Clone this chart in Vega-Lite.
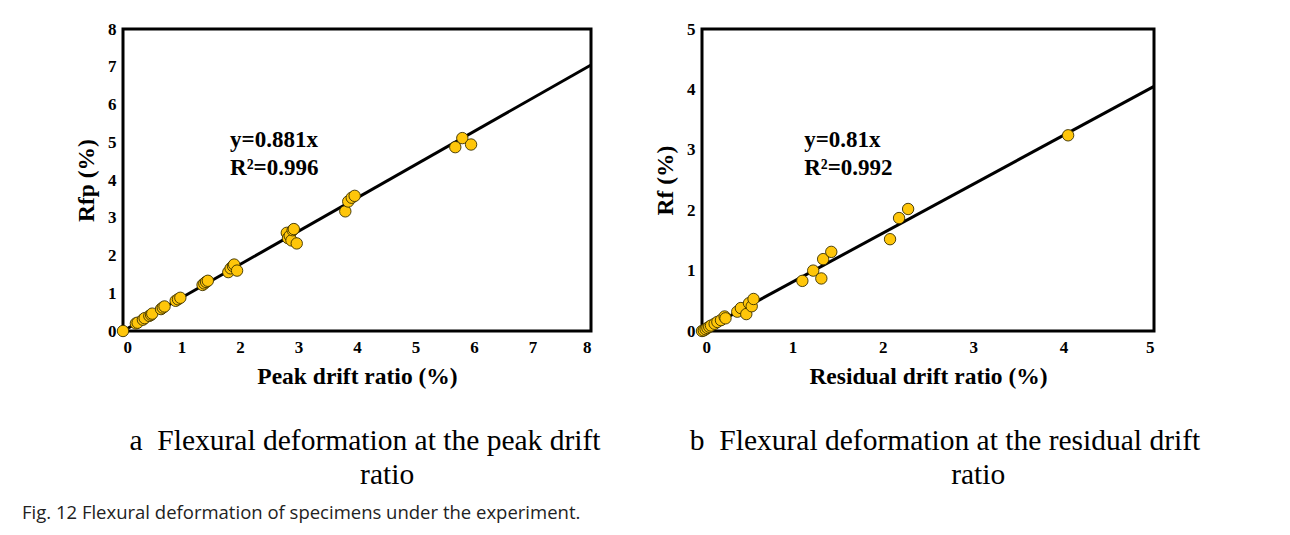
{
  "$schema": "https://vega.github.io/schema/vega-lite/v6.json",
  "background": "white",
  "padding": {"left": 22, "top": 18, "right": 10, "bottom": 5},
  "bounds": "flush",
  "spacing": 111,
  "title": {
    "text": "Fig. 12  Flexural deformation of specimens under the experiment.",
    "orient": "bottom",
    "anchor": "start",
    "font": "Open Sans",
    "fontSize": 18.5,
    "fontWeight": "normal",
    "color": "#222",
    "offset": 13,
    "dx": -51
  },
  "datasets": {
    "peak": [
      {"drift": 0, "rf": 0}, {"drift": 0.22, "rf": 0.2}, {"drift": 0.25, "rf": 0.22},
      {"drift": 0.34, "rf": 0.3}, {"drift": 0.37, "rf": 0.34}, {"drift": 0.45, "rf": 0.4},
      {"drift": 0.48, "rf": 0.43}, {"drift": 0.5, "rf": 0.46},
      {"drift": 0.65, "rf": 0.58}, {"drift": 0.68, "rf": 0.62}, {"drift": 0.71, "rf": 0.65},
      {"drift": 0.9, "rf": 0.8}, {"drift": 0.94, "rf": 0.84}, {"drift": 0.98, "rf": 0.88},
      {"drift": 1.36, "rf": 1.22}, {"drift": 1.39, "rf": 1.26}, {"drift": 1.42, "rf": 1.3}, {"drift": 1.45, "rf": 1.33},
      {"drift": 1.8, "rf": 1.56}, {"drift": 1.84, "rf": 1.66}, {"drift": 1.88, "rf": 1.72}, {"drift": 1.9, "rf": 1.76}, {"drift": 1.95, "rf": 1.6},
      {"drift": 2.8, "rf": 2.6}, {"drift": 2.82, "rf": 2.46}, {"drift": 2.85, "rf": 2.52}, {"drift": 2.88, "rf": 2.4},
      {"drift": 2.9, "rf": 2.67}, {"drift": 2.92, "rf": 2.7}, {"drift": 2.97, "rf": 2.32},
      {"drift": 3.8, "rf": 3.17}, {"drift": 3.85, "rf": 3.43}, {"drift": 3.91, "rf": 3.53}, {"drift": 3.96, "rf": 3.58},
      {"drift": 5.68, "rf": 4.87}, {"drift": 5.8, "rf": 5.11}, {"drift": 5.95, "rf": 4.94}
    ],
    "peakFit": [{"drift": 0, "rf": 0}, {"drift": 8, "rf": 7.048}],
    "peakEq": [
      {"drift": 1.83, "rf": 4.87, "label": "y=0.881x"},
      {"drift": 1.83, "rf": 4.13, "label": "R²=0.996"}
    ],
    "residual": [
      {"drift": 0, "rf": 0}, {"drift": 0.02, "rf": 0.01}, {"drift": 0.04, "rf": 0.03},
      {"drift": 0.06, "rf": 0.05}, {"drift": 0.08, "rf": 0.07}, {"drift": 0.1, "rf": 0.09},
      {"drift": 0.14, "rf": 0.12}, {"drift": 0.17, "rf": 0.15}, {"drift": 0.21, "rf": 0.18},
      {"drift": 0.25, "rf": 0.24}, {"drift": 0.26, "rf": 0.21},
      {"drift": 0.39, "rf": 0.32}, {"drift": 0.43, "rf": 0.38}, {"drift": 0.49, "rf": 0.28},
      {"drift": 0.52, "rf": 0.46}, {"drift": 0.55, "rf": 0.41}, {"drift": 0.57, "rf": 0.53},
      {"drift": 1.11, "rf": 0.83}, {"drift": 1.23, "rf": 1.0}, {"drift": 1.32, "rf": 0.87},
      {"drift": 1.34, "rf": 1.19}, {"drift": 1.43, "rf": 1.31},
      {"drift": 2.08, "rf": 1.52}, {"drift": 2.18, "rf": 1.87}, {"drift": 2.28, "rf": 2.02},
      {"drift": 4.05, "rf": 3.24}
    ],
    "residualFit": [{"drift": 0, "rf": 0}, {"drift": 5, "rf": 4.05}],
    "residualEq": [
      {"drift": 1.13, "rf": 3.05, "label": "y=0.81x"},
      {"drift": 1.13, "rf": 2.58, "label": "R²=0.992"}
    ]
  },
  "hconcat": [
    {
      "width": 468,
      "height": 302,
      "title": {
        "text": ["a\u00a0\u00a0Flexural deformation at the peak drift", "\u200b\u00a0\u00a0\u00a0\u00a0\u00a0\u00a0ratio"],
        "orient": "bottom",
        "anchor": "middle",
        "dx": 8
      },
      "encoding": {
        "x": {
          "field": "drift", "type": "quantitative",
          "scale": {"domain": [0, 8], "nice": false, "zero": true},
          "axis": {"title": "Peak drift ratio (%)", "values": [0, 1, 2, 3, 4, 5, 6, 7, 8]}
        },
        "y": {
          "field": "rf", "type": "quantitative",
          "scale": {"domain": [0, 8], "nice": false, "zero": true},
          "axis": {"title": "Rfp (%)", "values": [0, 1, 2, 3, 4, 5, 6, 7, 8]}
        }
      },
      "layer": [
        {"data": {"name": "peakFit"}, "mark": {"type": "line", "color": "black", "strokeWidth": 3}},
        {"data": {"name": "peak"}, "mark": {"type": "point", "filled": true, "fill": "#FFC60A", "stroke": "#3a3000", "strokeWidth": 0.9, "size": 130, "opacity": 1}},
        {"data": {"name": "peakEq"}, "mark": {"type": "text", "align": "left", "baseline": "alphabetic", "font": "Liberation Serif", "fontWeight": "bold", "fontSize": 23, "color": "black"},
         "encoding": {"text": {"field": "label"}}}
      ]
    },
    {
      "width": 452,
      "height": 302,
      "title": {
        "text": ["b\u00a0\u00a0Flexural deformation at the residual drift", "\u200b\u00a0\u00a0\u00a0\u00a0\u00a0\u00a0\u00a0\u00a0\u00a0ratio"],
        "orient": "bottom",
        "anchor": "middle",
        "dx": 17
      },
      "encoding": {
        "x": {
          "field": "drift", "type": "quantitative",
          "scale": {"domain": [0, 5], "nice": false, "zero": true},
          "axis": {"title": "Residual drift ratio (%)", "values": [0, 1, 2, 3, 4, 5]}
        },
        "y": {
          "field": "rf", "type": "quantitative",
          "scale": {"domain": [0, 5], "nice": false, "zero": true},
          "axis": {"title": "Rf (%)", "values": [0, 1, 2, 3, 4, 5]}
        }
      },
      "layer": [
        {"data": {"name": "residualFit"}, "mark": {"type": "line", "color": "black", "strokeWidth": 3}},
        {"data": {"name": "residual"}, "mark": {"type": "point", "filled": true, "fill": "#FFC60A", "stroke": "#3a3000", "strokeWidth": 0.9, "size": 130, "opacity": 1}},
        {"data": {"name": "residualEq"}, "mark": {"type": "text", "align": "left", "baseline": "alphabetic", "font": "Liberation Serif", "fontWeight": "bold", "fontSize": 23, "color": "black"},
         "encoding": {"text": {"field": "label"}}}
      ]
    }
  ],
  "config": {
    "view": {"stroke": "black", "strokeWidth": 3, "fill": "white"},
    "axis": {
      "domain": false,
      "ticks": false,
      "tickSize": 0,
      "grid": false,
      "labelFont": "Liberation Serif",
      "labelFontWeight": "bold",
      "labelFontSize": 17,
      "labelColor": "black",
      "titleFont": "Liberation Serif",
      "titleFontWeight": "bold",
      "titleFontSize": 23.5,
      "titleColor": "black",
      "format": "d"
    },
    "axisX": {"labelPadding": 8, "titlePadding": 9},
    "axisY": {"labelPadding": 7, "titlePadding": 9},
    "title": {
      "font": "Liberation Serif",
      "fontSize": 29.5,
      "fontWeight": "normal",
      "color": "black",
      "lineHeight": 34,
      "offset": 39
    }
  }
}
